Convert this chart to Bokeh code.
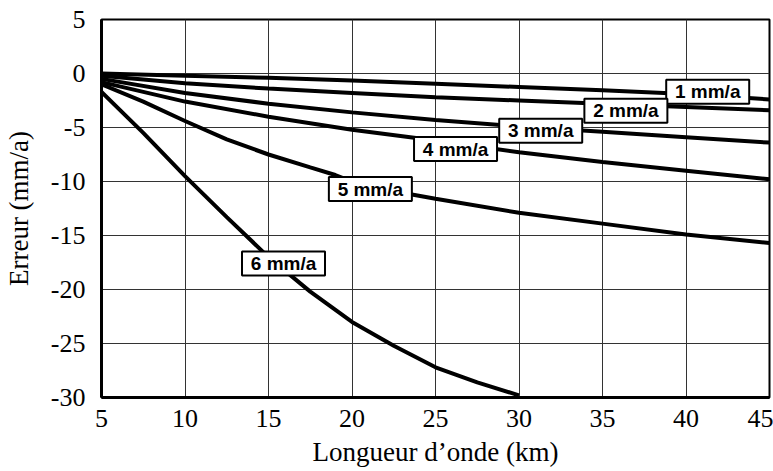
from bokeh.plotting import figure
from bokeh.models import FixedTicker, ColumnDataSource, Range1d
from bokeh.core.properties import value
from bokeh.embed import file_html
from bokeh.resources import INLINE

# Data
x_ticks = [5, 10, 15, 20, 25, 30, 35, 40, 45]
y_ticks = [-30, -25, -20, -15, -10, -5, 0, 5]

wl = [5, 10, 15, 20, 25, 30, 35, 40, 45]
err_1 = [0.0, -0.2, -0.4, -0.65, -0.95, -1.25, -1.55, -1.9, -2.4]
err_2 = [-0.2, -0.9, -1.4, -1.8, -2.2, -2.5, -2.8, -3.1, -3.4]
err_3 = [-0.5, -1.8, -2.8, -3.6, -4.3, -4.9, -5.4, -5.9, -6.4]
err_4 = [-0.8, -2.6, -4.0, -5.2, -6.2, -7.3, -8.2, -9.0, -9.8]

wl_5 = [5, 7.5, 10, 12.5, 15, 17.5, 19, 20, 22.5, 25, 30, 35, 40, 45]
err_5 = [-1.0, -2.6, -4.4, -6.1, -7.5, -8.7, -9.4, -10.0, -10.9, -11.6, -12.9, -13.9, -14.9, -15.7]

wl_6 = [5, 7.5, 10, 12.5, 15, 17.5, 20, 22.5, 25, 27.5, 30]
err_6 = [-1.7, -5.5, -9.5, -13.3, -17.0, -20.2, -23.0, -25.2, -27.2, -28.6, -29.8]

label_text = ["1 mm/a", "2 mm/a", "3 mm/a", "4 mm/a", "5 mm/a", "6 mm/a"]
label_x = [41.3, 36.4, 31.3, 26.2, 21.1, 15.9]
label_y = [-1.7, -3.45, -5.3, -7.0, -10.7, -17.6]

p = figure(width=773, height=471, output_backend="svg", toolbar_location=None,
           x_range=Range1d(5, 45), y_range=Range1d(-30, 5),
           min_border_left=101, min_border_right=4, min_border_top=19, min_border_bottom=74)
p.background_fill_color = "white"
p.outline_line_color = "black"
p.outline_line_width = 2

serif = "Liberation Serif"
p.axis.major_label_text_font = serif
p.axis.major_label_text_font_size = "26px"
p.axis.major_label_text_color = "black"
p.axis.axis_label_text_font = serif
p.axis.axis_label_text_font_size = "27px"
p.axis.axis_label_text_font_style = "normal"
p.axis.axis_label_text_color = "black"
p.axis.major_tick_line_color = None
p.axis.minor_tick_line_color = None
p.axis.axis_line_color = "black"
p.axis.axis_line_width = 3

p.xaxis.ticker = FixedTicker(ticks=x_ticks)
p.yaxis.ticker = FixedTicker(ticks=y_ticks)
p.xaxis.major_label_overrides = {t: str(t) for t in x_ticks}
p.yaxis.major_label_overrides = {t: str(t) for t in y_ticks}
p.xaxis.axis_label = "Longueur d’onde (km)"
p.yaxis.axis_label = "Erreur (mm/a)"
p.xaxis.major_label_standoff = 6
p.xaxis.axis_label_standoff = 7
p.yaxis.major_label_standoff = 10
p.yaxis.axis_label_standoff = 14

p.grid.grid_line_color = "#333333"
p.grid.grid_line_width = 1
p.grid.grid_line_alpha = 1.0

lw = 4
p.line(wl, err_1, line_color="black", line_width=lw)
p.line(wl, err_2, line_color="black", line_width=lw)
p.line(wl, err_3, line_color="black", line_width=lw)
p.line(wl, err_4, line_color="black", line_width=lw)
p.line(wl_5, err_5, line_color="black", line_width=lw)
p.line(wl_6, err_6, line_color="black", line_width=lw)

src = ColumnDataSource(dict(x=label_x, y=label_y, t=label_text))
p.rect(x="x", y="y", width=83, height=24, width_units="screen", height_units="screen",
       source=src, fill_color="white", line_color="black", line_width=2)
p.text(x="x", y="y", text="t", source=src, text_align="center", text_baseline="middle",
       text_font=value("Liberation Sans"), text_font_style="bold", text_font_size="19px",
       text_color="black")

open("out.html", "w").write(file_html(p, INLINE))
